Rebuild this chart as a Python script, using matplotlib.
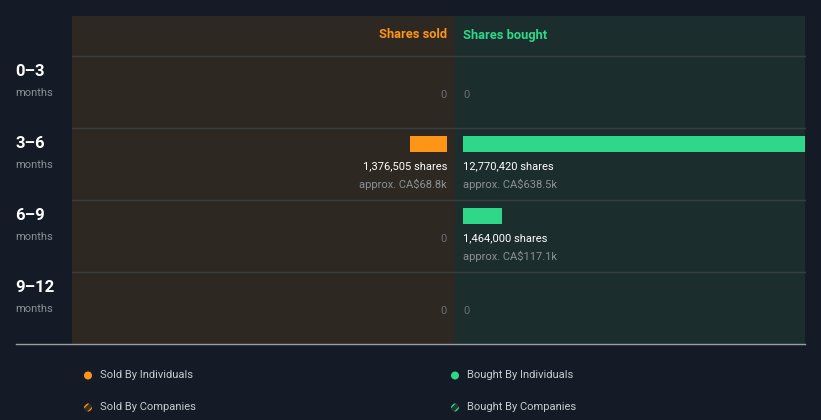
import numpy as np
import matplotlib.pyplot as plt
from matplotlib.patches import Rectangle, Circle

plt.rcParams['font.family'] = ['Roboto', 'DejaVu Sans']

# ---- du lieu ----
periods = ['0\u20133', '3\u20136', '6\u20139', '9\u201312']
sold_shares = [0, 1376505, 0, 0]
bought_shares = [0, 12770420, 1464000, 0]
sold_value = ['', 'approx. CA$68.8k', '', '']
bought_value = ['', 'approx. CA$638.5k', 'approx. CA$117.1k', '']
legend_labels = ['Sold By Individuals', 'Bought By Individuals',
                 'Sold By Companies', 'Bought By Companies']

# ---- mau ----
BG = '#151b26'
SOLD_BG = '#2d2822'
BOUGHT_BG = '#1b2e2d'
ORANGE = '#ff9516'
GREEN = '#2ed888'
GRID = '#3a3e42'
GREY = '#8c9196'
DIM = '#6b6f73'

W, H = 821, 420
fig = plt.figure(figsize=(W / 100, H / 100), dpi=100, facecolor=BG)
ax = fig.add_axes([0, 0, 1, 1])
ax.set_xlim(0, W)
ax.set_ylim(H, 0)
ax.axis('off')

# khung
top, head, row_h = 16, 40, 72
mid, left, right = 455, 72, 805
bottom = top + head + row_h * len(periods)
ax.add_patch(Rectangle((left, top), mid - left, bottom - top, color=SOLD_BG, lw=0))
ax.add_patch(Rectangle((mid, top), right - mid, bottom - top, color=BOUGHT_BG, lw=0))

ax.text(mid - 8, top + 19, 'Shares sold', color=ORANGE, fontsize=9.3,
        fontweight='bold', ha='right', va='center')
ax.text(mid + 8, top + 19, 'Shares bought', color=GREEN, fontsize=9.3,
        fontweight='bold', ha='left', va='center')

span = right - (mid + 8)
vmax = max(max(sold_shares), max(bought_shares))

for i, p in enumerate(periods):
    y0 = top + head + i * row_h
    ax.plot([left, right], [y0, y0], color=GRID, lw=1)
    ax.text(15, y0 + 15, p, color='white', fontsize=12, fontweight='bold',
            ha='left', va='center')
    ax.text(15, y0 + 36.5, 'months', color=GREY, fontsize=8, ha='left', va='center')

    # ban
    s = sold_shares[i]
    if s > 0:
        w = s / vmax * span
        ax.barh(y0 + 16, w, height=16, left=mid - 8 - w, color=ORANGE)
        ax.text(mid - 8, y0 + 38.5, f'{s:,} shares', color='white', fontsize=8,
                ha='right', va='center')
        ax.text(mid - 8, y0 + 56.5, sold_value[i], color=GREY, fontsize=8,
                ha='right', va='center')
    else:
        ax.text(mid - 8, y0 + 38.5, '0', color=DIM, fontsize=8, ha='right', va='center')

    # mua
    b = bought_shares[i]
    if b > 0:
        w = b / vmax * span
        ax.barh(y0 + 16, w, height=16, left=mid + 8, color=GREEN)
        ax.text(mid + 8, y0 + 38.5, f'{b:,} shares', color='white', fontsize=8,
                ha='left', va='center')
        ax.text(mid + 8, y0 + 56.5, bought_value[i], color=GREY, fontsize=8,
                ha='left', va='center')
    else:
        ax.text(mid + 8, y0 + 38.5, '0', color=DIM, fontsize=8, ha='left', va='center')

ax.plot([16, right], [bottom, bottom], color='#9a9ea3', lw=1)

# ---- chu thich ----
pos = [(88, 375.5), (455, 375.5), (88, 407.5), (455, 407.5)]
cols = [ORANGE, GREEN, ORANGE, GREEN]
for k, (lab, (x, y), c) in enumerate(zip(legend_labels, pos, cols)):
    if k < 2:
        ax.add_patch(Circle((x, y), 4, color=c, lw=0))
    else:
        ax.add_patch(Circle((x, y), 4, facecolor='#3a3020' if c == ORANGE else '#1d3a30',
                            edgecolor=c, hatch='////', lw=0))
    ax.text(x + 12, y, lab, color='#c8ccd0', fontsize=8, ha='left', va='center')

fig.savefig('out.png', dpi=100, facecolor=BG)
